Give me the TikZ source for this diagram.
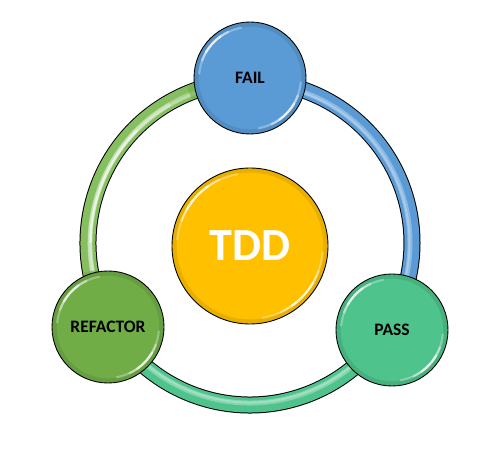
\documentclass[tikz,border=0pt]{standalone}
\usepackage{fontspec}
\setmainfont{Carlito}
\usetikzlibrary{calc,backgrounds}
\definecolor{cfail}{HTML}{5B9BD5}
\definecolor{cpass}{HTML}{4EC38C}
\definecolor{cref}{HTML}{70AD47}
\definecolor{cleft}{HTML}{86BF60}
\definecolor{ctdd}{HTML}{FFC000}
\begin{document}
\begin{tikzpicture}[x=1pt,y=1pt,
  ball/.style={circle, draw=black, line width=0.9pt, minimum size=112pt, inner sep=0pt,
    font=\bfseries\fontsize{17.5}{20}\selectfont, text=black},
  bigball/.style={ball, minimum size=156pt, font=\bfseries\fontsize{46}{50}\selectfont, text=white},
  ringout/.style={line width=17pt, black},
  ringin/.style={line width=15pt},
  ringhl/.style={line width=5pt, white, opacity=.3},
  glint/.style={white, line width=2.2pt, line cap=round}]
\useasboundingbox (0,0) rectangle (500,468);
\coordinate (rc) at (250,225);
\def\R{162}
% nodes
\node[ball, fill=cfail] (fail) at (250,390) {FAIL};
\node[ball, fill=cpass] (pass) at (392,138) {PASS};
\node[ball, fill=cref] (refactor) at (108,141) {REFACTOR};
\node[bigball, fill=ctdd] (tdd) at (250,222) {TDD};
% ring segments behind
\begin{scope}[on background layer]
  \foreach \a/\b/\c in {90/-31/cfail, -31/-149/cpass, 211/90/cleft}{
    \draw[ringout] ($(rc)+(\a:\R)$) arc[start angle=\a, end angle=\b, radius=\R];
    \draw[ringin, \c] ($(rc)+(\a:\R)$) arc[start angle=\a, end angle=\b, radius=\R];
    \draw[ringhl] ($(rc)+(\a:\R-2)$) arc[start angle=\a, end angle=\b, radius=\R-2];
    \draw[white, opacity=.25, line width=2pt] ($(rc)+(\a:\R-2.5)$) arc[start angle=\a, end angle=\b, radius=\R-2.5];
  }
  \draw[white, opacity=.35, line width=4pt] ($(rc)+(120:\R-2)$) arc[start angle=120, end angle=195, radius=\R-2];
  \draw[white, opacity=.5, line width=2.5pt] ($(rc)+(135:\R-2.5)$) arc[start angle=135, end angle=180, radius=\R-2.5];
  \draw[cref, opacity=.6, line width=15pt] ($(rc)+(211:\R)$) arc[start angle=211, end angle=190, radius=\R];
  \draw[cref, opacity=.6, line width=15pt] ($(rc)+(90:\R)$) arc[start angle=90, end angle=112, radius=\R];
\end{scope}
% gloss on balls
\foreach \n/\r in {fail/56, pass/56, refactor/56, tdd/78}{
  \draw[black, opacity=.09, line width=4pt] (\n.center) circle[radius=\r-2.6];
  \draw[glint, opacity=.3] ($(\n.center)+(100:\r-5)$) arc[start angle=100, end angle=175, radius=\r-5];
  \draw[glint, opacity=.4] ($(\n.center)+(115:\r-5)$) arc[start angle=115, end angle=160, radius=\r-5];
  \draw[glint, opacity=.6] ($(\n.center)+(125:\r-5)$) arc[start angle=125, end angle=150, radius=\r-5];
  \draw[glint, opacity=.3] ($(\n.center)+(-80:\r-5)$) arc[start angle=-80, end angle=-5, radius=\r-5];
  \draw[glint, opacity=.4] ($(\n.center)+(-65:\r-5)$) arc[start angle=-65, end angle=-20, radius=\r-5];
  \draw[glint, opacity=.6] ($(\n.center)+(-55:\r-5)$) arc[start angle=-55, end angle=-30, radius=\r-5];
}
\end{tikzpicture}
\end{document}
